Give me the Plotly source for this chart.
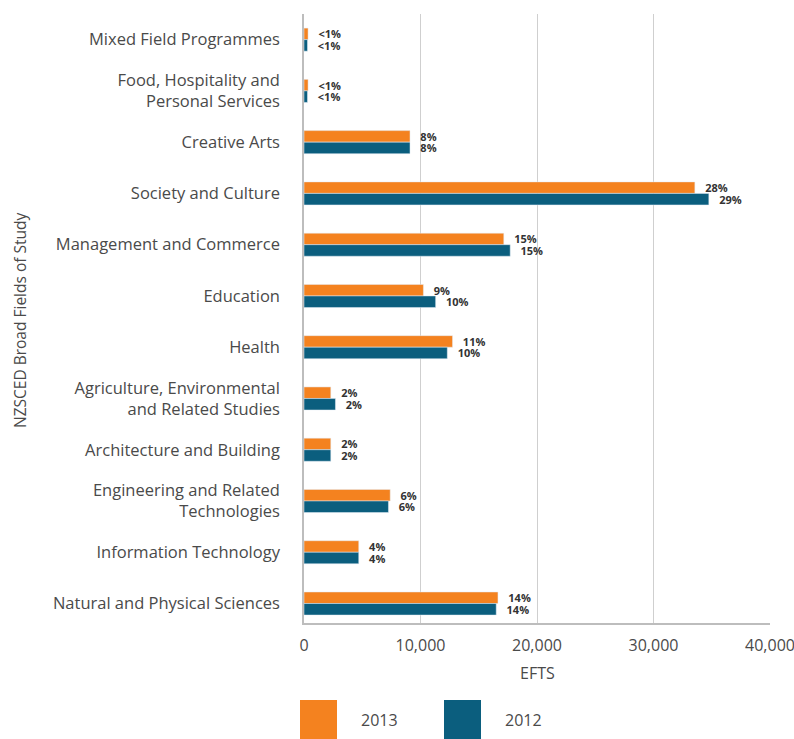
import plotly.graph_objects as go

NARANJA = "#F4821F"
AZUL = "#0B5E7E"
GRIS_TXT = "#4A4A4A"
FUENTE = "Open Sans, sans-serif"

campos = [
    "Mixed Field Programmes",
    "Food, Hospitality and<br>Personal Services",
    "Creative Arts",
    "Society and Culture",
    "Management and Commerce",
    "Education",
    "Health",
    "Agriculture, Environmental<br>and Related Studies",
    "Architecture and Building",
    "Engineering and Related<br>Technologies",
    "Information Technology",
    "Natural and Physical Sciences",
]
efts_2013 = [350, 350, 9100, 33550, 17150, 10250, 12750, 2300, 2300, 7400, 4700, 16650]
efts_2012 = [300, 300, 9100, 34750, 17700, 11300, 12300, 2700, 2300, 7250, 4700, 16500]
pct_2013 = ["<1%", "<1%", "8%", "28%", "15%", "9%", "11%", "2%", "2%", "6%", "4%", "14%"]
pct_2012 = ["<1%", "<1%", "8%", "29%", "15%", "10%", "10%", "2%", "2%", "6%", "4%", "14%"]
ticks_x = [0, 10000, 20000, 30000, 40000]

# área de trazado en píxeles
IZQ, DER, ARR, ABA = 304, 770, 14, 623
ANCHO, ALTO = DER - IZQ, ABA - ARR

def px_x(p):
    return (p - IZQ) / ANCHO

def px_y(p):
    return (ABA - p) / ALTO

fig = go.Figure()
for anio, valores, textos, color in [
    ("2013", efts_2013, pct_2013, NARANJA),
    ("2012", efts_2012, pct_2012, AZUL),
]:
    fig.add_trace(go.Bar(
        y=campos, x=valores, orientation="h",
        name=anio, marker_color=color,
        text=textos, texttemplate="\u2002\u2009%{text}",
        textposition="outside", cliponaxis=False, constraintext="none",
        textfont=dict(color="#333333", size=11, family=FUENTE, weight=700),
        showlegend=False,
    ))

fig.update_layout(
    barmode="group",
    bargap=0.55,
    bargroupgap=0,
    width=794, height=739,
    plot_bgcolor="white", paper_bgcolor="white",
    font=dict(family=FUENTE, color=GRIS_TXT, size=16),
    margin=dict(l=IZQ, r=794 - DER, t=ARR, b=739 - ABA),
    xaxis=dict(
        range=[0, 40000], tickvals=ticks_x, tickformat=",",
        showgrid=True, gridcolor="#CFCFCF", gridwidth=1,
        showline=True, linecolor="#BDBDBD", linewidth=1.5,
        zeroline=False, ticks="", ticklabelstandoff=7,
        ticklabeloverflow="allow", automargin=False,
        tickfont=dict(size=16, color=GRIS_TXT, family=FUENTE),
    ),
    yaxis=dict(
        categoryorder="array", categoryarray=campos,
        range=[11.38, -0.5],
        showline=True, linecolor="#BDBDBD", linewidth=1.5,
        showgrid=False, ticks="", ticklabelstandoff=19,
        automargin=False,
        tickfont=dict(size=16.5, color=GRIS_TXT, family=FUENTE),
    ),
)

# títulos de los ejes
fig.add_annotation(
    text="EFTS", xref="paper", yref="paper",
    x=px_x(537), y=px_y(673), xanchor="center", yanchor="middle",
    showarrow=False, font=dict(size=16, color=GRIS_TXT, family=FUENTE),
)
fig.add_annotation(
    text="NZSCED Broad Fields of Study", textangle=-90,
    xref="paper", yref="paper", x=px_x(20), y=px_y(321),
    xanchor="center", yanchor="middle",
    showarrow=False, font=dict(size=15.5, color=GRIS_TXT, family=FUENTE),
)

# leyenda con cuadros grandes
for anio, color, x0 in [("2013", NARANJA, 300), ("2012", AZUL, 444)]:
    fig.add_shape(
        type="rect", xref="paper", yref="paper",
        x0=px_x(x0), x1=px_x(x0 + 37),
        y0=px_y(745), y1=px_y(700),
        fillcolor=color, line=dict(width=0),
    )
    fig.add_annotation(
        text=anio, xref="paper", yref="paper",
        x=px_x(x0 + 59), y=px_y(720),
        xanchor="left", yanchor="middle", showarrow=False,
        font=dict(size=16, color=GRIS_TXT, family=FUENTE),
    )

# sin el margen por defecto del navegador
fig.write_html(
    "out.html",
    config={"displayModeBar": False},
    post_script="document.body.style.margin = '0';",
)
